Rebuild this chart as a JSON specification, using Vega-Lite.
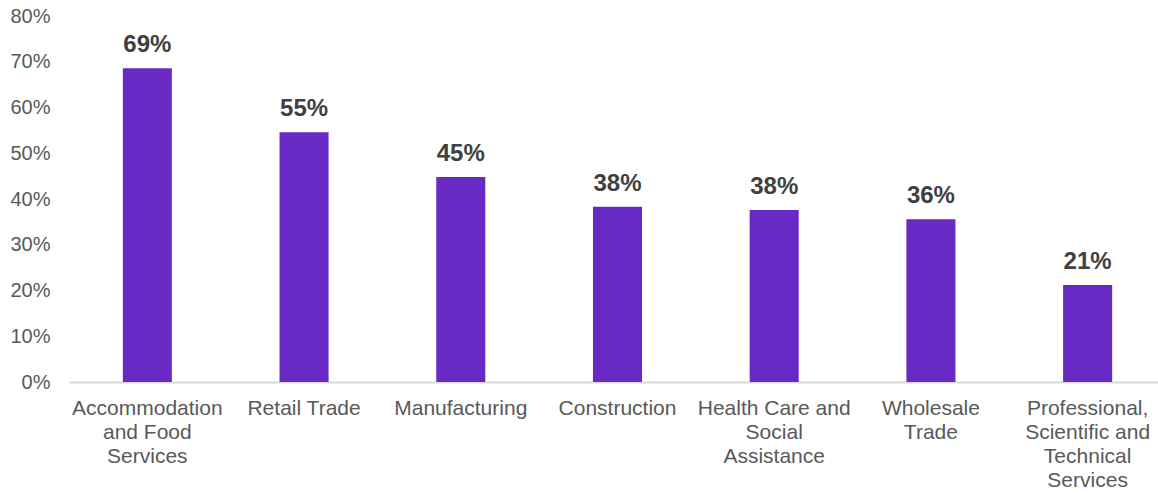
{
  "$schema": "https://vega.github.io/schema/vega-lite/v6.json",
  "autosize": "none",
  "width": 1089,
  "height": 366,
  "padding": {"left": 69, "top": 16, "right": 0, "bottom": 111},
  "background": "white",
  "config": {
    "view": {"stroke": null},
    "font": "Liberation Sans"
  },
  "data": {
    "values": [
      {"industry": "Accommodation|and Food|Services", "share": 0.686},
      {"industry": "Retail Trade", "share": 0.546},
      {"industry": "Manufacturing", "share": 0.448},
      {"industry": "Construction", "share": 0.383},
      {"industry": "Health Care and|Social|Assistance", "share": 0.376},
      {"industry": "Wholesale|Trade", "share": 0.356},
      {"industry": "Professional,|Scientific and|Technical|Services", "share": 0.212}
    ]
  },
  "encoding": {
    "x": {
      "field": "industry",
      "type": "nominal",
      "sort": null,
      "scale": {"paddingInner": 0.687, "paddingOuter": 0.318, "align": 0.54},
      "axis": {
        "title": null,
        "labelAngle": 0,
        "labelExpr": "split(datum.label, '|')",
        "labelFont": "Liberation Sans",
        "labelFontSize": 21,
        "labelColor": "#595959",
        "labelLineHeight": 24,
        "labelPadding": 15,
        "labelLimit": 300,
        "ticks": false,
        "domainColor": "#d9d9d9",
        "domainWidth": 2
      }
    },
    "y": {
      "field": "share",
      "type": "quantitative",
      "scale": {"domain": [0, 0.8], "nice": false},
      "axis": {
        "title": null,
        "format": ".0%",
        "values": [0, 0.1, 0.2, 0.3, 0.4, 0.5, 0.6, 0.7, 0.8],
        "grid": false,
        "domain": false,
        "ticks": false,
        "labelFont": "Liberation Sans",
        "labelFontSize": 20,
        "labelColor": "#595959",
        "labelPadding": 19
      }
    }
  },
  "layer": [
    {"mark": {"type": "bar", "color": "#6929c4"}},
    {
      "mark": {
        "type": "text",
        "baseline": "alphabetic",
        "dy": -16,
        "fontWeight": "bold",
        "fontSize": 24,
        "font": "Liberation Sans",
        "color": "#404040"
      },
      "encoding": {
        "text": {"field": "share", "type": "quantitative", "format": ".0%"}
      }
    }
  ]
}
